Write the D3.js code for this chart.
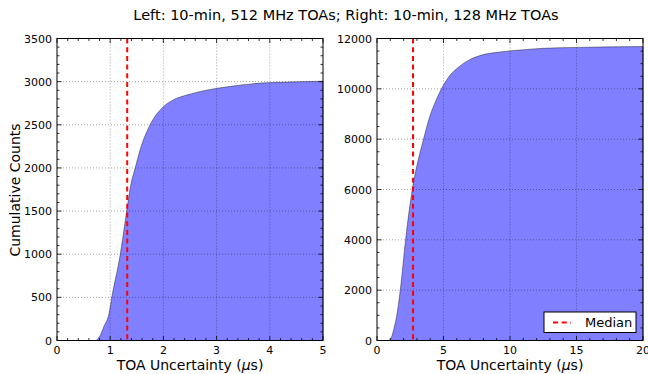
<!DOCTYPE html>
<html>
<head>
<meta charset="utf-8">
<script src="https://cdn.jsdelivr.net/npm/d3@7"></script>
<style>
  html, body { margin: 0; padding: 0; background: #fff; }
  svg { display: block; font-family: "DejaVu Sans", sans-serif; }
</style>
</head>
<body>
<svg id="chart" width="648" height="374"></svg>
<script>
// Cumulative TOA counts versus TOA uncertainty (µs)
const leftUnc    = [0, 0.72, 0.80, 0.88, 0.98, 1.03, 1.19, 1.31, 1.38, 1.47, 1.58, 1.75, 2.00, 2.19, 2.44, 2.76, 3.20, 3.76, 4.50, 5.00];
const leftCounts = [0, 0, 45, 160, 320, 500, 1000, 1500, 1780, 2000, 2245, 2500, 2710, 2790, 2845, 2895, 2940, 2980, 2998, 3005];
const leftMedian = 1.32;

const rightUnc    = [0, 0.85, 1.00, 1.10, 1.25, 1.47, 1.75, 2.15, 2.65, 3.00, 3.50, 3.80, 4.00, 4.40, 4.80, 5.40, 6.15, 6.90, 7.80, 9.20, 10.5, 12.5, 15.0, 20.0];
const rightCounts = [0, 0, 40, 150, 425, 950, 2000, 4000, 6000, 6950, 8000, 8600, 8950, 9500, 9950, 10480, 10870, 11140, 11330, 11460, 11530, 11610, 11645, 11680];
const rightMedian = 2.71;

const leftXTicks  = [0, 1, 2, 3, 4, 5];
const leftYTicks  = [0, 500, 1000, 1500, 2000, 2500, 3000, 3500];
const rightXTicks = [0, 5, 10, 15, 20];
const rightYTicks = [0, 2000, 4000, 6000, 8000, 10000, 12000];

const titleText = "Left: 10-min, 512 MHz TOAs; Right: 10-min, 128 MHz TOAs";
const yLabel = "Cumulative Counts";
const legendLabel = "Median";

const svg = d3.select("#chart");
const plotTop = 38.5, plotBottom = 340.5;

svg.append("text")
  .attr("x", 346).attr("y", 19.5)
  .attr("text-anchor", "middle")
  .attr("font-size", 14.5)
  .text(titleText);

function panel(cfg) {
  const x = d3.scaleLinear().domain(cfg.xDomain).range([cfg.x0, cfg.x1]);
  const y = d3.scaleLinear().domain(cfg.yDomain).range([plotBottom, plotTop]);
  const g = svg.append("g");
  const pts = cfg.xs.map((v, i) => [v, cfg.ys[i]]);

  const area = d3.area().x(d => x(d[0])).y0(y(0)).y1(d => y(d[1])).curve(d3.curveMonotoneX);
  g.append("path").datum(pts).attr("d", area)
    .attr("fill", "#0000ff").attr("fill-opacity", 0.5)
    .attr("stroke", "#000").attr("stroke-opacity", 0.5).attr("stroke-width", 0.8);

  // dotted grid drawn above the fill
  const grid = g.append("g").attr("stroke", "#000").attr("stroke-width", 0.6)
    .attr("stroke-dasharray", "1,2").attr("stroke-opacity", 0.6);
  cfg.xTicks.slice(1, -1).forEach(t => grid.append("line")
    .attr("x1", x(t)).attr("x2", x(t)).attr("y1", plotTop).attr("y2", plotBottom));
  cfg.yTicks.slice(1, -1).forEach(t => grid.append("line")
    .attr("x1", cfg.x0).attr("x2", cfg.x1).attr("y1", y(t)).attr("y2", y(t)));

  // median marker
  g.append("line")
    .attr("x1", x(cfg.median)).attr("x2", x(cfg.median))
    .attr("y1", plotTop).attr("y2", plotBottom)
    .attr("stroke", "#ff0000").attr("stroke-width", 2)
    .attr("stroke-dasharray", "5,3.7");

  // inward ticks on all four sides
  const ticks = g.append("g").attr("stroke", "#000").attr("stroke-width", 0.8);
  const majorLen = 4.5, minorLen = 2.5;
  const xMinor = d3.range(cfg.xDomain[0], cfg.xDomain[1] + 1e-9, cfg.xMinorStep);
  const yMinor = d3.range(cfg.yDomain[0], cfg.yDomain[1] + 1e-9, cfg.yMinorStep);
  xMinor.forEach(t => {
    const len = cfg.xTicks.some(m => Math.abs(m - t) < 1e-9) ? majorLen : minorLen;
    ticks.append("line").attr("x1", x(t)).attr("x2", x(t)).attr("y1", plotBottom).attr("y2", plotBottom - len);
    ticks.append("line").attr("x1", x(t)).attr("x2", x(t)).attr("y1", plotTop).attr("y2", plotTop + len);
  });
  yMinor.forEach(t => {
    const len = cfg.yTicks.some(m => Math.abs(m - t) < 1e-9) ? majorLen : minorLen;
    ticks.append("line").attr("x1", cfg.x0).attr("x2", cfg.x0 + len).attr("y1", y(t)).attr("y2", y(t));
    ticks.append("line").attr("x1", cfg.x1).attr("x2", cfg.x1 - len).attr("y1", y(t)).attr("y2", y(t));
  });

  // frame
  g.append("rect")
    .attr("x", cfg.x0).attr("y", plotTop)
    .attr("width", cfg.x1 - cfg.x0).attr("height", plotBottom - plotTop)
    .attr("fill", "none").attr("stroke", "#000").attr("stroke-width", 1);

  // tick labels
  cfg.xTicks.forEach(t => g.append("text")
    .attr("x", x(t)).attr("y", plotBottom + 13)
    .attr("text-anchor", "middle").attr("font-size", 11).attr("fill", "#000")
    .text(t));
  cfg.yTicks.forEach(t => g.append("text")
    .attr("x", cfg.x0 - 5).attr("y", y(t) + 4)
    .attr("text-anchor", "end").attr("font-size", 11).attr("fill", "#000")
    .text(t));

  // x label with italic mu
  const xl = g.append("text")
    .attr("x", (cfg.x0 + cfg.x1) / 2).attr("y", 370)
    .attr("text-anchor", "middle").attr("font-size", 14);
  xl.append("tspan").text("TOA Uncertainty (");
  xl.append("tspan").attr("font-style", "italic").text("\u03bc");
  xl.append("tspan").text("s)");
  return { x, y, g };
}

panel({
  x0: 57, x1: 323, xDomain: [0, 5], yDomain: [0, 3500],
  xs: leftUnc, ys: leftCounts, median: leftMedian,
  xTicks: leftXTicks, yTicks: leftYTicks, xMinorStep: 0.2, yMinorStep: 100
});
panel({
  x0: 377, x1: 643, xDomain: [0, 20], yDomain: [0, 12000],
  xs: rightUnc, ys: rightCounts, median: rightMedian,
  xTicks: rightXTicks, yTicks: rightYTicks, xMinorStep: 1, yMinorStep: 500
});

svg.append("text")
  .attr("transform", "translate(20,190) rotate(-90)")
  .attr("text-anchor", "middle").attr("font-size", 14)
  .text(yLabel);

// legend
const lg = svg.append("g").attr("transform", "translate(544,312)");
lg.append("rect").attr("width", 92).attr("height", 20.5)
  .attr("fill", "#fff").attr("stroke", "#000").attr("stroke-width", 1);
lg.append("line").attr("x1", 9).attr("x2", 27).attr("y1", 10.5).attr("y2", 10.5)
  .attr("stroke", "#ff0000").attr("stroke-width", 2).attr("stroke-dasharray", "5,3.7");
lg.append("text").attr("x", 41).attr("y", 15).attr("font-size", 13).text(legendLabel);
</script>
</body>
</html>
